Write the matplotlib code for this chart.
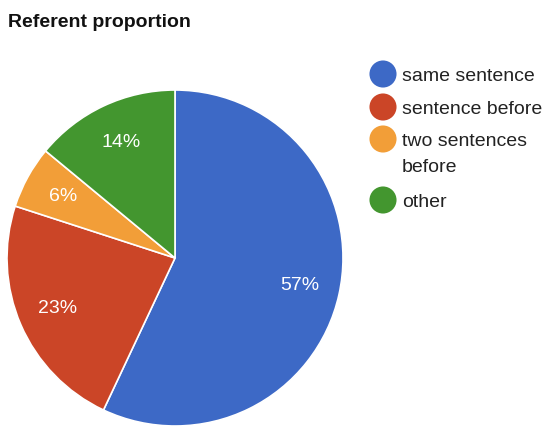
import matplotlib
matplotlib.use("Agg")
import matplotlib.pyplot as plt

plt.rcParams['font.family'] = ['Liberation Sans', 'DejaVu Sans']

categories = ["same sentence", "sentence before", "two sentences\nbefore", "other"]
shares = [57, 23, 6, 14]
colors = ["#3D69C6", "#CB4527", "#F29E38", "#43962F"]
title = "Referent proportion"

W, H = 543, 428
fig = plt.figure(figsize=(W / 100, H / 100), dpi=100)

# pie axes: centre at (175, 258) px from top-left, radius 168 px
cx, cy, r = 175, 258, 168
ax = fig.add_axes([(cx - r) / W, (H - cy - r) / H, 2 * r / W, 2 * r / H])
wedges, texts, autotexts = ax.pie(
    shares, colors=colors, startangle=90, counterclock=False, radius=1,
    autopct=lambda p: f"{p:.0f}%", pctdistance=0.76,
    wedgeprops=dict(edgecolor="white", linewidth=1.2),
    textprops=dict(color="white", fontsize=14),
)
ax.set_xlim(-1, 1)
ax.set_ylim(-1, 1)
ax.set_aspect("equal")
ax.axis("off")

fig.text(8 / W, 1 - 27 / H, title, fontsize=14, fontweight="bold",
         color="#111111", ha="left", va="baseline")

# legend drawn in pixel coordinates
leg = fig.add_axes([0, 0, 1, 1])
leg.set_xlim(0, W)
leg.set_ylim(H, 0)
leg.axis("off")
leg.patch.set_alpha(0)
rows_y = [74, 107, 139, 200]
line_step = 27
for name, col, y in zip(categories, colors, rows_y):
    leg.scatter([383], [y], s=380, color=col, edgecolors="none")
    for i, line in enumerate(name.split("\n")):
        leg.text(402, y + i * line_step, line, fontsize=14, color="#222222",
                 ha="left", va="center_baseline")

fig.savefig("out.png", dpi=100, facecolor="white")
